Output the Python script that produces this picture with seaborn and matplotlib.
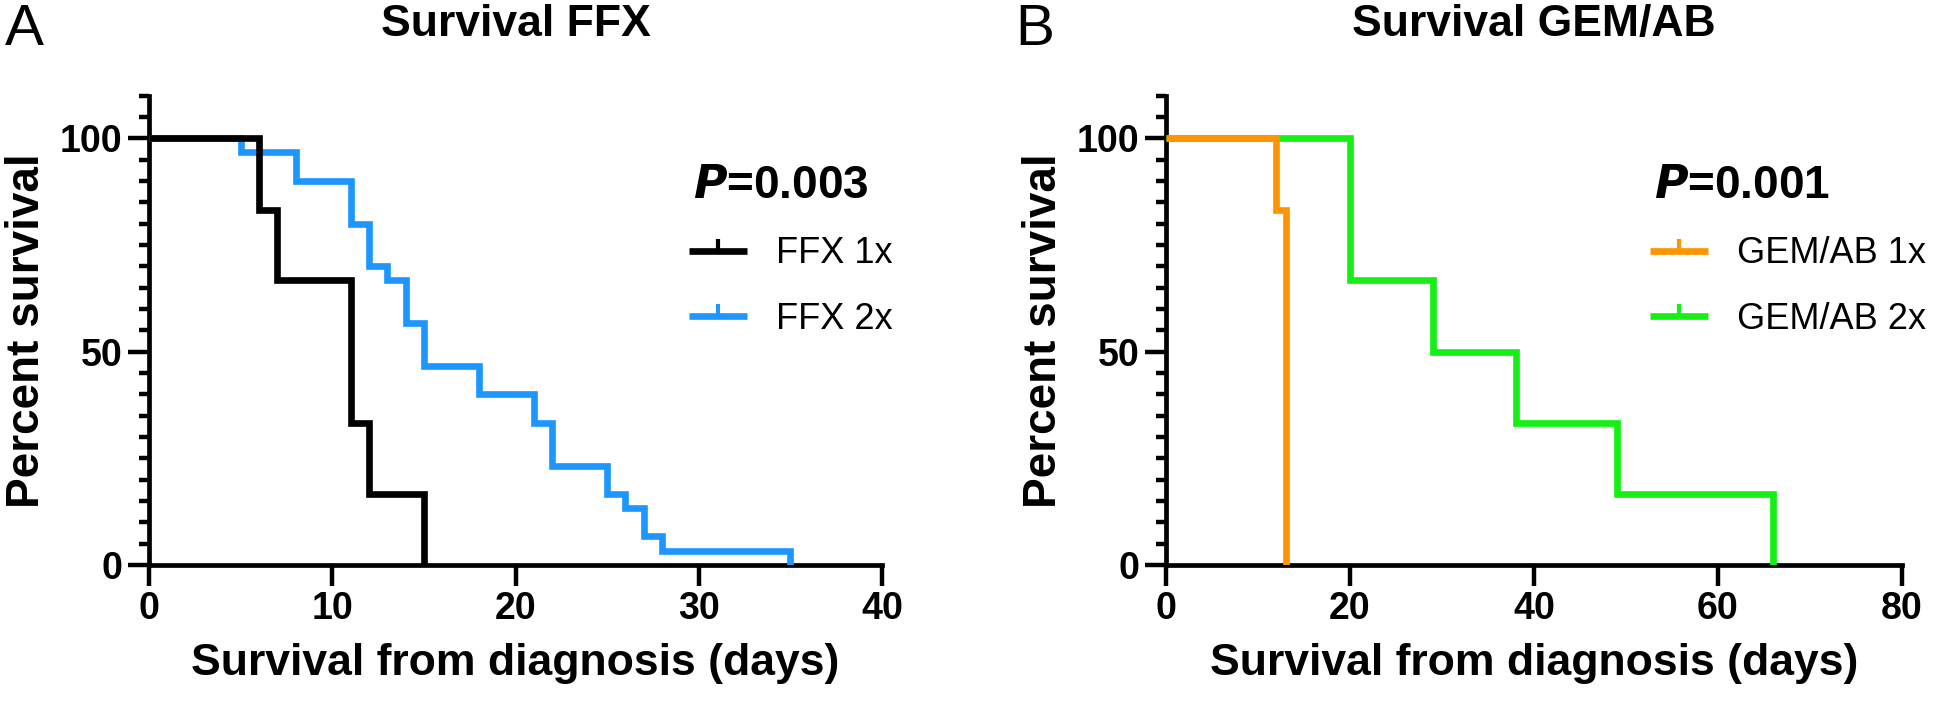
import matplotlib
matplotlib.use("Agg")
import matplotlib.pyplot as plt
from matplotlib.lines import Line2D
from matplotlib.ticker import MultipleLocator
import seaborn as sns
import pandas as pd


# =========================================================
# DATA
# =========================================================

ffx_1x_days = [0, 6, 7, 11, 12, 15]
ffx_1x_surv = [100, 83.3, 66.7, 33.3, 16.7, 0]

ffx_2x_days = [0, 5, 8, 11, 12, 13, 14, 15, 18, 21, 22, 25, 26, 27, 28, 35]
ffx_2x_surv = [100, 96.7, 90, 80, 70, 66.7, 56.7, 46.7, 40, 33.3, 23.3,
               16.7, 13.3, 6.7, 3.3, 0]

gem_1x_days = [0, 12, 13]
gem_1x_surv = [100, 83.3, 0]

gem_2x_days = [0, 20, 29, 38, 49, 66]
gem_2x_surv = [100, 66.7, 50, 33.3, 16.7, 0]

panel_titles = ["Survival FFX", "Survival GEM/AB"]
panel_letters = ["A", "B"]
p_values = ["0.003", "0.001"]
xlims = [40, 80]
xsteps = [10, 20]

ffx_labels = ["FFX 1x", "FFX 2x"]
gem_labels = ["GEM/AB 1x", "GEM/AB 2x"]
ffx_colors = ["#000000", "#1E96FF"]
gem_colors = ["#FF9400", "#14F014"]


# =========================================================
# STYLE
# =========================================================

sns.set_style("ticks", {"axes.edgecolor": "black", "text.color": "black",
                        "axes.labelcolor": "black", "xtick.color": "black",
                        "ytick.color": "black"})
plt.rcParams["font.family"] = ["Liberation Sans", "DejaVu Sans"]

fig = plt.figure(figsize=(19.44, 7.04), dpi=100)
ax_a = fig.add_axes([149 / 1944, 1 - 565 / 704, 733 / 1944, 469.4 / 704])
ax_b = fig.add_axes([1166 / 1944, 1 - 565 / 704, 736 / 1944, 469.4 / 704])

panels = [
    (ax_a, [(ffx_1x_days, ffx_1x_surv), (ffx_2x_days, ffx_2x_surv)], ffx_labels, ffx_colors),
    (ax_b, [(gem_1x_days, gem_1x_surv), (gem_2x_days, gem_2x_surv)], gem_labels, gem_colors),
]

LW = 4.8

for i, (ax, curves, labels, colors) in enumerate(panels):
    # the 1x curve sits on top of the 2x curve
    for k, ((days, surv), lab, col) in enumerate(zip(curves, labels, colors)):
        df = pd.DataFrame({"days": days, "surv": surv})
        sns.lineplot(data=df, x="days", y="surv", ax=ax, color=col, lw=LW,
                     drawstyle="steps-post", estimator=None, sort=False,
                     solid_joinstyle="miter", solid_capstyle="butt",
                     zorder=4 - k)

    ax.set_xlim(0, xlims[i])
    ax.set_ylim(0, 110)
    ax.xaxis.set_major_locator(MultipleLocator(xsteps[i]))
    ax.yaxis.set_major_locator(MultipleLocator(50))
    ax.yaxis.set_minor_locator(MultipleLocator(5))

    for side in ["top", "right"]:
        ax.spines[side].set_visible(False)
    for side in ["left", "bottom"]:
        ax.spines[side].set_linewidth(3.4)
    ax.tick_params(which="major", length=15, width=3.2, pad=4, labelsize=27)
    ax.tick_params(which="minor", axis="y", length=7, width=3.2)
    for lbl in ax.get_xticklabels() + ax.get_yticklabels():
        lbl.set_fontweight("bold")

    ax.set_xlabel("Survival from diagnosis (days)", fontsize=32,
                  fontweight="bold", labelpad=11)
    ax.set_ylabel("Percent survival", fontsize=33, fontweight="bold",
                  labelpad=8)
    ax.set_title(panel_titles[i], fontsize=32, fontweight="bold", pad=43)

    # P value and legend
    px = 0.742 if i == 0 else 0.663
    ax.text(px, 0.782, r"$\bfit{P}$" + "=" + p_values[i], transform=ax.transAxes,
            fontsize=33, fontweight="bold", va="baseline", ha="left")

    handles = [Line2D([0], [0], color=c, lw=LW, marker=2, markersize=9,
                      markeredgewidth=3, solid_capstyle="butt")
               for c in colors]
    ax.legend(handles, labels, loc="upper left",
              bbox_to_anchor=(px - 0.005, 0.70), frameon=False,
              fontsize=26, handlelength=1.6, handletextpad=0.8,
              labelspacing=0.85, borderpad=0, borderaxespad=0, numpoints=1)

    fig.text([5, 1015][i] / 1944, 1 - 45 / 704, panel_letters[i],
             fontsize=42, va="baseline", ha="left")

fig.savefig("out.png", dpi=100)
